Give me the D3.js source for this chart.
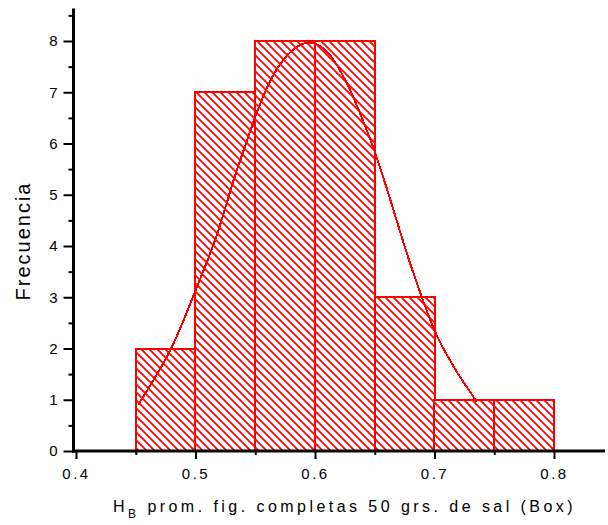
<!DOCTYPE html>
<html>
<head>
<meta charset="utf-8">
<script src="https://cdn.jsdelivr.net/npm/d3@7"></script>
<style>
  html, body { margin: 0; padding: 0; background: #fff; }
  svg { display: block; }
  text { font-family: "Liberation Sans", Arial, sans-serif; fill: #000; }
</style>
</head>
<body>
<svg id="chart" width="608" height="525"></svg>
<script>
// ---- data ----
const binStarts = [0.45, 0.50, 0.55, 0.60, 0.65, 0.70, 0.75];
const binWidth = 0.05;
const frequencies = [2, 7, 8, 8, 3, 1, 1];

const curveX = [0.452, 0.466, 0.4814, 0.498, 0.5023, 0.5149, 0.5233, 0.5316, 0.5456, 0.5512, 0.5623, 0.5735, 0.5874, 0.600, 0.6126, 0.621, 0.6293, 0.6377, 0.646, 0.6516, 0.6628, 0.6711, 0.6795, 0.6879, 0.6948, 0.7018, 0.7102, 0.7186, 0.7269, 0.7353];
const curveY = [0.90, 1.42, 2.04, 3.01, 3.27, 3.99, 4.60, 5.29, 6.22, 6.62, 7.24, 7.67, 7.96, 7.99, 7.76, 7.43, 7.07, 6.59, 6.10, 5.74, 4.93, 4.28, 3.66, 3.10, 2.65, 2.24, 1.88, 1.54, 1.25, 0.96];

const xMajorTicks = [0.4, 0.5, 0.6, 0.7, 0.8];
const xMinorTicks = [0.45, 0.55, 0.65, 0.75];
const yMajorTicks = [0, 1, 2, 3, 4, 5, 6, 7, 8];
const yMinorTicks = [0.5, 1.5, 2.5, 3.5, 4.5, 5.5, 6.5, 7.5, 8.5];

const xTitleMain = "H";
const xTitleSub = "B";
const xTitleRest = " prom. fig. completas 50 grs. de sal (Box)";
const yTitle = "Frecuencia";

// ---- layout ----
const svg = d3.select("#chart");
const x = d3.scaleLinear().domain([0.4, 0.8]).range([76, 554]);
const y = d3.scaleLinear().domain([0, 8]).range([451, 41]);
const xLeft = 73.5, xRight = 605, yTop = 8.5, yBottom = 451;

// hatch pattern
const defs = svg.append("defs");
const pat = defs.append("pattern")
  .attr("id", "hatch")
  .attr("patternUnits", "userSpaceOnUse")
  .attr("width", 8).attr("height", 8);
pat.append("rect").attr("width", 8).attr("height", 8).attr("fill", "#fff");
pat.append("path")
  .attr("d", "M-2,-2 L10,10 M-2,6 L2,10 M6,-2 L10,2")
  .attr("stroke", "#ff0000")
  .attr("stroke-width", 1.7);

// bars
svg.append("g").selectAll("rect")
  .data(binStarts.map((b, i) => ({ x0: b, x1: b + binWidth, f: frequencies[i] })))
  .join("rect")
  .attr("x", d => Math.round(x(d.x0)))
  .attr("y", d => Math.round(y(d.f)))
  .attr("width", d => Math.round(x(d.x1)) - Math.round(x(d.x0)))
  .attr("height", d => Math.round(y(0)) - Math.round(y(d.f)))
  .attr("fill", "url(#hatch)")
  .attr("stroke", "#ff0000")
  .attr("stroke-width", 2)
  .attr("shape-rendering", "crispEdges");

// curve
const line = d3.line().x(d => x(d[0])).y(d => y(d[1])).curve(d3.curveBasis);
svg.append("path")
  .datum(curveX.map((v, i) => [v, curveY[i]]))
  .attr("d", line)
  .attr("fill", "none")
  .attr("stroke", "#ff0000")
  .attr("stroke-width", 2)
  .attr("shape-rendering", "crispEdges");

// axes
const gy = svg.append("g").attr("transform", `translate(${xLeft},0)`);
gy.call(d3.axisLeft(y).tickValues(yMajorTicks).tickSize(10).tickPadding(6).tickFormat(d3.format("d")));
gy.call(g => g.select(".domain").remove());
gy.selectAll(".tick line").attr("stroke", "#000").attr("stroke-width", 2);
gy.selectAll(".tick text").attr("font-size", 15).attr("font-family", "Liberation Sans, Arial, sans-serif").attr("fill", "#000");
const gyMinor = svg.append("g").attr("transform", `translate(${xLeft},0)`);
gyMinor.call(d3.axisLeft(y).tickValues(yMinorTicks).tickSize(5).tickFormat(""));
gyMinor.call(g => g.select(".domain").remove());
gyMinor.selectAll(".tick line").attr("stroke", "#000").attr("stroke-width", 2);

const gx = svg.append("g").attr("transform", `translate(0,${yBottom})`);
gx.call(d3.axisBottom(x).tickValues(xMajorTicks).tickSize(8).tickPadding(9).tickFormat(d3.format(".1f")));
gx.call(g => g.select(".domain").remove());
gx.selectAll(".tick line").attr("stroke", "#000").attr("stroke-width", 2);
gx.selectAll(".tick text").attr("font-size", 15).attr("letter-spacing", "2.5px")
  .attr("font-family", "Liberation Sans, Arial, sans-serif").attr("fill", "#000");
const gxMinor = svg.append("g").attr("transform", `translate(0,${yBottom})`);
gxMinor.call(d3.axisBottom(x).tickValues(xMinorTicks).tickSize(4).tickFormat(""));
gxMinor.call(g => g.select(".domain").remove());
gxMinor.selectAll(".tick line").attr("stroke", "#000").attr("stroke-width", 2);

// axis lines
svg.append("line").attr("x1", xLeft).attr("x2", xLeft).attr("y1", yTop).attr("y2", yBottom + 1.5)
  .attr("stroke", "#000").attr("stroke-width", 3);
svg.append("line").attr("x1", xLeft - 1.5).attr("x2", xRight).attr("y1", yBottom).attr("y2", yBottom)
  .attr("stroke", "#000").attr("stroke-width", 3);

// titles
const xt = svg.append("text").attr("x", 113).attr("y", 512)
  .attr("font-size", 16).attr("letter-spacing", "3.45px");
xt.append("tspan").text(xTitleMain);
xt.append("tspan").attr("font-size", 12).attr("dy", 6).text(xTitleSub);
xt.append("tspan").attr("dy", -6).text(xTitleRest);

svg.append("text")
  .attr("transform", "translate(30,241) rotate(-90)")
  .attr("text-anchor", "middle")
  .attr("font-size", 20).attr("letter-spacing", "2px")
  .text(yTitle);
</script>
</body>
</html>
